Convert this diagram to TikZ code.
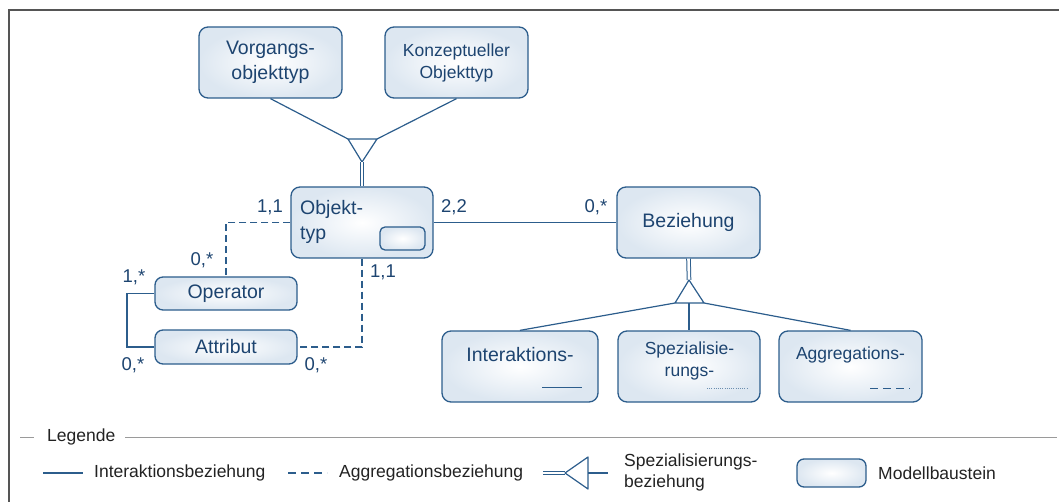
\documentclass[tikz,border=0pt]{standalone}
\usepackage{fontspec}
\setmainfont{Liberation Sans}
\definecolor{linec}{HTML}{2C5D8C}
\definecolor{textc}{HTML}{1D4470}
\definecolor{boxc}{HTML}{DDE7F1}
\definecolor{framec}{HTML}{555555}
\definecolor{rulec}{HTML}{9A9A9A}
\definecolor{legtext}{HTML}{222222}
\begin{document}
\begin{tikzpicture}[x=1pt,y=-1pt,
  box/.style={draw=linec, line width=1.3pt, rounded corners=9pt,
    inner color=white, outer color=boxc, inner sep=0pt},
  bigbox/.style={box, minimum width=143pt, minimum height=71pt},
  txt/.style={text=textc, inner sep=0pt, font=\fontsize{19.5}{25}\selectfont},
  smalltxt/.style={text=textc, inner sep=0pt, font=\fontsize{17.5}{22}\selectfont},
  card/.style={text=textc, inner sep=0pt, font=\fontsize{18.5}{22}\selectfont},
  conn/.style={draw=linec, line width=1.3pt},
  aggr/.style={conn, dash pattern=on 7pt off 4pt},
  spec/.style={draw=linec, line width=1pt, double=white, double distance=2.6pt},
  legtxt/.style={text=legtext, inner sep=0pt, font=\fontsize{17.5}{21}\selectfont}]

\useasboundingbox (0,0) rectangle (1059,502);

% outer frame
\draw[framec, line width=2pt] (9,502) -- (9,10) -- (1059,10);

% supertypes
\node[bigbox, txt, align=center] (vorg) at (270.5,62.5) {Vorgangs-\\objekttyp};
\node[bigbox, smalltxt, align=center] (konz) at (456.5,62.5) {Konzeptueller\\Objekttyp};

% Objekttyp
\node[bigbox, minimum width=142pt] (obj) at (362,222.5) {};
\node[txt, anchor=west, align=left] (objtxt) at (300,222) {Objekt-\\typ};
\node[box, rounded corners=5pt, minimum width=45pt, minimum height=23pt] (objinner) at (402.5,238.5) {};

% Beziehung
\node[bigbox, txt] (bez) at (688.5,222.5) {Beziehung};

% Operator and Attribut
\node[box, rounded corners=8pt, minimum width=142pt, minimum height=33pt, txt] (op) at (226,293.5) {Operator};
\node[box, rounded corners=8pt, minimum width=142pt, minimum height=34pt, txt] (attr) at (226,347) {Attribut};

% relationship subtypes
\node[bigbox, minimum width=156pt] (inter) at (520,366.5) {};
\node[txt] (intertxt) at (520,355) {Interaktions-};
\node[bigbox, minimum width=142pt] (spez) at (689,366.5) {};
\node[smalltxt, align=center] (speztxt) at (689.5,361) {Spezialisie-\\rungs-};
\node[bigbox] (aggrbox) at (850.5,366.5) {};
\node[smalltxt] (aggrtxt) at (850.5,355) {Aggregations-};

\coordinate (il) at (542,387); \coordinate (ir) at (582,387);
\draw[conn, line width=1pt] (il) -- (ir);
\coordinate (sl) at (707,388); \coordinate (sr) at (747,388);
\draw[draw=linec!70, line width=0.7pt, dash pattern=on 0.7pt off 1.5pt] (sl) -- (sr);
\coordinate (al) at (870,388); \coordinate (ar) at (910,388);
\draw[conn, line width=1pt, dash pattern=on 8pt off 5pt] (al) -- (ar);

% specialisation triangle above Objekttyp
\coordinate (ta) at (348,139);
\coordinate (tb) at (377,139);
\coordinate (tc) at (362,162);
\draw[conn, line width=1.2pt, line join=round] (ta) -- (tb) -- (tc) -- cycle;
\draw[conn, line width=1.2pt] (vorg.south) -- (ta);
\draw[conn, line width=1.2pt] (konz.south) -- (tb);
\draw[spec] (tc) -- (obj.north);

% specialisation triangle below Beziehung
\coordinate (ua) at (689,280);
\coordinate (ub) at (675,303);
\coordinate (uc) at (704,303);
\coordinate (um) at (689,303);
\draw[spec] (bez.south) -- (ua);
\draw[conn, line width=1.2pt, line join=round] (ua) -- (ub) -- (uc) -- cycle;
\draw[conn, line width=1.2pt] (ub) -- (inter.north);
\draw[conn, line width=1.2pt] (um) -- (spez.north);
\draw[conn, line width=1.2pt] (uc) -- (aggrbox.north);

% interaction and aggregation connectors
\draw[conn] (obj.east) -- (bez.west);
\draw[aggr] (obj.west) -| (op.north);
\draw[aggr] (obj.south) |- (attr.east);
\coordinate (opbend) at (127,293.5);
\draw[conn] (op.west) -- (opbend) |- (attr.west);

% cardinalities
\node[card] (c1) at (270,207) {1,1};
\node[card] (c2) at (202,260) {0,*};
\node[card] (c3) at (134,277) {1,*};
\node[card] (c4) at (133,365) {0,*};
\node[card] (c5) at (383,272) {1,1};
\node[card] (c6) at (316,365) {0,*};
\node[card] (c7) at (454,207) {2,2};
\node[card] (c8) at (596,207) {0,*};

% legend
\node[legtxt, anchor=west] (legtitle) at (47,437) {Legende};
\coordinate (r1) at (20,437); \coordinate (r2) at (34,437);
\coordinate (r3) at (125,437); \coordinate (r4) at (1057,437);
\draw[rulec, line width=1pt] (r1) -- (r2);
\draw[rulec, line width=1pt] (r3) -- (r4);

\coordinate (l1a) at (43,473); \coordinate (l1b) at (83,473);
\draw[conn, line width=1.5pt] (l1a) -- (l1b);
\node[legtxt, anchor=west] (legint) at (94,473) {Interaktionsbeziehung};

\coordinate (l2a) at (288,473); \coordinate (l2b) at (327,473);
\draw[conn, line width=1.5pt, dash pattern=on 8pt off 5pt] (l2a) -- (l2b);
\node[legtxt, anchor=west] (legagg) at (339,473) {Aggregationsbeziehung};

\coordinate (l3a) at (543,473); \coordinate (l3tip) at (565,473);
\coordinate (l3t) at (588,457); \coordinate (l3b) at (588,489);
\coordinate (l3m) at (588,473); \coordinate (l3e) at (608,473);
\draw[spec] (l3a) -- (l3tip);
\draw[conn, line width=1.2pt, line join=round] (l3tip) -- (l3t) -- (l3b) -- cycle;
\draw[conn, line width=1.2pt] (l3m) -- (l3e);
\node[legtxt, anchor=west, align=left] (legspez) at (624,472) {Spezialisierungs-\\beziehung};

\node[box, rounded corners=7pt, minimum width=69pt, minimum height=28pt] (legbox) at (831.5,473) {};
\node[legtxt, anchor=west] (legmod) at (878,473) {Modellbaustein};

\end{tikzpicture}
\end{document}
